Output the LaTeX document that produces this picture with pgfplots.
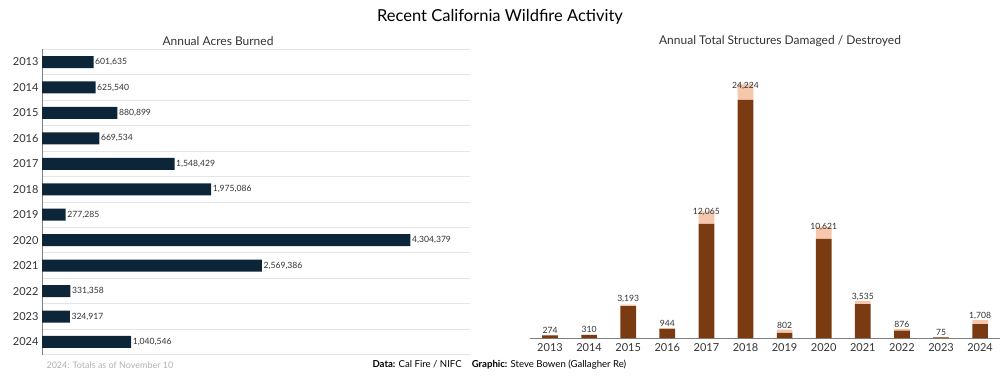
\documentclass[border=0pt]{standalone}
\usepackage{fontspec}
\setmainfont{Lato}
\usepackage{pgfplots}
\pgfplotsset{compat=1.18}
\definecolor{navy}{HTML}{0C2539}
\definecolor{brownD}{HTML}{7A3B12}
\definecolor{peach}{HTML}{F5C8AD}
\definecolor{txt}{HTML}{333333}
\begin{document}
\begin{tikzpicture}
\path[draw=none] (0pt,0pt) rectangle (1000pt,375pt);
\node[font=\fontsize{16.5}{18}\selectfont, text=black] at (500pt,358pt) {Recent California Wildfire Activity};
\node[font=\fontsize{12}{14}\selectfont, text=txt] at (218pt,334pt) {Annual Acres Burned};
\node[font=\fontsize{12}{14}\selectfont, text=txt] at (780pt,334pt) {Annual Total Structures Damaged / Destroyed};
\node[anchor=west, font=\fontsize{9}{10}\selectfont, text=black!30] at (43pt,10pt) {2024: Totals as of November 10};
\node[anchor=west, font=\fontsize{9.6}{11}\selectfont, text=black] at (369pt,10pt) {\textbf{Data:} Cal Fire / NIFC\hspace{10pt}\textbf{Graphic:} Steve Bowen (Gallagher Re)};

\begin{axis}[
  at={(42pt,20.3pt)}, anchor=south west, scale only axis,
  width=428pt, height=305.4pt,
  xbar, bar width=12pt,
  xmin=0, xmax=5000000, ymin=-0.5, ymax=11.5,
  ytick={0,...,11}, yticklabels={2024,2023,2022,2021,2020,2019,2018,2017,2016,2015,2014,2013},
  minor ytick={-0.5,0.5,...,11.5}, yminorgrids=true,
  minor grid style={black!10, line width=0.8pt},
  major tick length=0pt, minor tick length=0pt,
  xtick=\empty,
  axis lines*=left,
  x axis line style={draw=none},
  y axis line style={black!50, line width=0.7pt},
  y tick label style={font=\fontsize{11}{13}\selectfont, text=txt},
  nodes near coords={\pgfplotspointmeta},
  point meta=explicit symbolic,
  nodes near coords style={font=\fontsize{8.6}{10}\selectfont, text=txt, inner sep=1.5pt, anchor=west},
  clip=false,
]
\addplot[fill=navy, draw=none] table[x=v, y=i, meta=lab] {
i v lab
11 601635 601,635
10 625540 625,540
9 880899 880,899
8 669534 669,534
7 1548429 1,548,429
6 1975086 1,975,086
5 277285 277,285
4 4304379 4,304,379
3 2569386 2,569,386
2 331358 331,358
1 324917 324,917
0 1040546 1,040,546
};
\end{axis}

\begin{axis}[
  at={(530.45pt,37pt)}, anchor=south west, scale only axis,
  width=469.2pt, height=272.7pt,
  ybar stacked, bar width=15.7pt,
  xmin=-0.5, xmax=11.5, ymin=0, ymax=26000,
  xtick={0,...,11}, xticklabels={2013,2014,2015,2016,2017,2018,2019,2020,2021,2022,2023,2024},
  ytick=\empty,
  major tick length=0pt,
  axis lines*=left,
  y axis line style={draw=none},
  x axis line style={black!50, line width=0.7pt},
  x tick label style={font=\fontsize{11}{13}\selectfont, text=txt, yshift=-2pt},
  clip=false,
]
\addplot[fill=brownD, draw=none] table[x=i, y=d] {
i d
0 250
1 290
2 3050
3 880
4 10870
5 22700
6 500
7 9440
8 3220
9 700
10 60
11 1330
};
\addplot[fill=peach, draw=none, nodes near coords={\pgfplotspointmeta}, point meta=explicit symbolic,
  nodes near coords style={font=\fontsize{8.6}{10}\selectfont, text=txt, inner sep=2pt, anchor=south}] table[x=i, y=g, meta=lab] {
i g lab
0 24 274
1 20 310
2 143 3,193
3 64 944
4 1195 12,065
5 1524 24,224
6 302 802
7 1181 10,621
8 315 3,535
9 176 876
10 15 75
11 378 1,708
};
\end{axis}
\end{tikzpicture}
\end{document}
